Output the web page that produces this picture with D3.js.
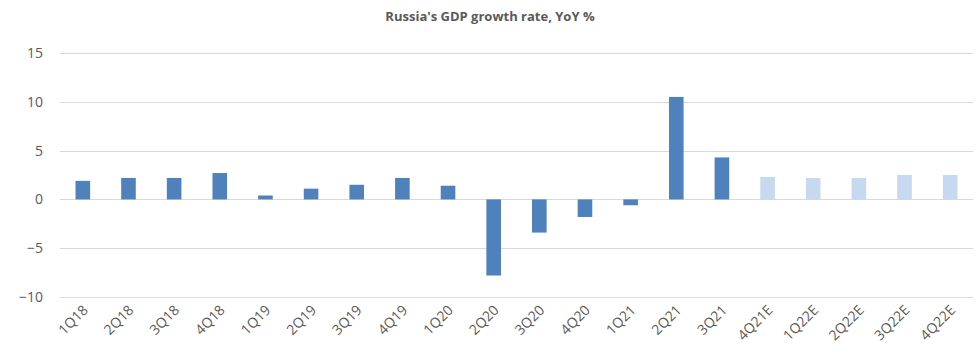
<!DOCTYPE html>
<html>
<head>
<meta charset="utf-8">
<script src="https://cdn.jsdelivr.net/npm/d3@7/dist/d3.min.js"></script>
<style>
  body { margin: 0; background: #fff; }
  text { font-family: "Open Sans", "Liberation Sans", sans-serif; fill: #595959; }
</style>
</head>
<body>
<div id="chart"></div>
<script>
var quarters = ["1Q18", "2Q18", "3Q18", "4Q18", "1Q19", "2Q19", "3Q19", "4Q19", "1Q20", "2Q20",
  "3Q20", "4Q20", "1Q21", "2Q21", "3Q21", "4Q21E", "1Q22E", "2Q22E", "3Q22E", "4Q22E"];
var growth = [1.9, 2.2, 2.2, 2.7, 0.4, 1.1, 1.5, 2.2, 1.4, -7.8,
  -3.4, -1.8, -0.6, 10.5, 4.3, 2.3, 2.2, 2.2, 2.5, 2.5];
// forecasts (the "E" quarters) get the pale colour
var isEstimate = quarters.map(function(q) { return q.slice(-1) === "E"; });
var yTicks = [-10, -5, 0, 5, 10, 15];

var width = 979, height = 358;
var margin = {top: 53, right: 6, bottom: 61, left: 60};

var svg = d3.select("#chart").append("svg")
  .attr("width", width)
  .attr("height", height);

var x = d3.scaleBand()
  .domain(quarters)
  .range([margin.left, width - margin.right])
  .paddingInner(0.68)
  .paddingOuter(0.34);

var y = d3.scaleLinear()
  .domain([-10, 15])
  .range([height - margin.bottom, margin.top]);

// title
svg.append("text")
  .attr("x", 490)
  .attr("y", 21)
  .attr("text-anchor", "middle")
  .attr("font-size", 13)
  .attr("font-weight", "bold")
  .text("Russia's GDP growth rate, YoY %");

// gridlines
svg.append("g")
  .selectAll("line")
  .data(yTicks)
  .enter().append("line")
  .attr("x1", margin.left)
  .attr("x2", width - margin.right)
  .attr("y1", function(d) { return Math.round(y(d)) + 0.5; })
  .attr("y2", function(d) { return Math.round(y(d)) + 0.5; })
  .attr("stroke", "#d9d9d9")
  .attr("stroke-width", 1.2);

// y axis labels
var yAxis = svg.append("g")
  .attr("transform", "translate(" + (margin.left - 17) + ",0)")
  .call(d3.axisLeft(y).tickValues(yTicks).tickSize(0).tickPadding(0));
yAxis.select(".domain").remove();
yAxis.selectAll("text")
  .attr("font-size", 14)
  .attr("font-family", "Open Sans, Liberation Sans, sans-serif")
  .attr("fill", "#595959");

// bars
svg.append("g")
  .selectAll("rect")
  .data(growth)
  .enter().append("rect")
  .attr("x", function(d, i) { return x(quarters[i]); })
  .attr("width", x.bandwidth())
  .attr("y", function(d) { return y(Math.max(0, d)); })
  .attr("height", function(d) { return Math.abs(y(d) - y(0)); })
  .attr("fill", function(d, i) { return isEstimate[i] ? "#c6d9f0" : "#4f81bd"; });

// x axis labels, rotated
var xAxis = svg.append("g")
  .attr("transform", "translate(0," + (height - margin.bottom) + ")")
  .call(d3.axisBottom(x).tickSize(0).tickPadding(0));
xAxis.select(".domain").remove();
xAxis.selectAll("text")
  .attr("font-size", 14)
  .attr("font-family", "Open Sans, Liberation Sans, sans-serif")
  .attr("fill", "#595959")
  .attr("text-anchor", "end")
  .attr("dy", 0)
  .attr("transform", "translate(6,14) rotate(-45)");
</script>
</body>
</html>
